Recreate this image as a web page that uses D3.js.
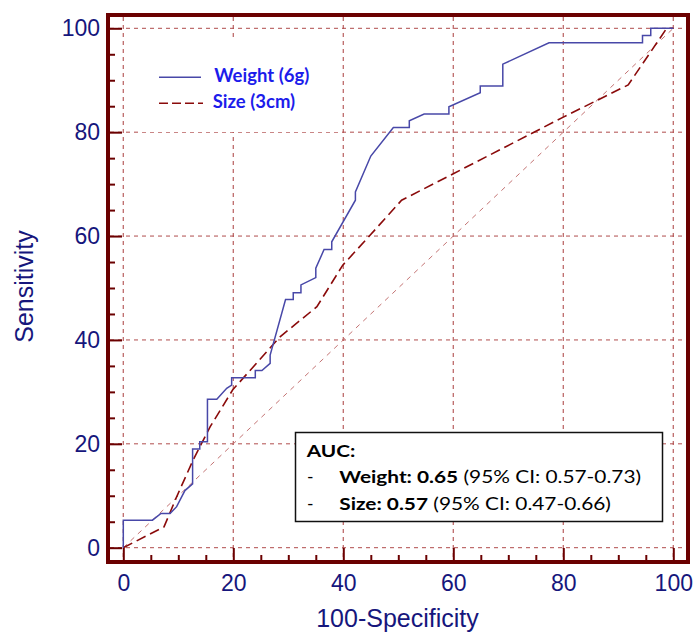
<!DOCTYPE html>
<html>
<head>
<meta charset="utf-8">
<script src="https://cdn.jsdelivr.net/npm/d3@7"></script>
<style>
  body { margin: 0; background: #fff; }
  svg { display: block; }
</style>
</head>
<body>
<div id="chart"></div>
<script>
// ROC curves (x = 100-specificity, y = sensitivity)
var weightX = [0, 0, 5.3, 6.85, 8.5, 9.7, 11.2, 12.6, 12.6, 13.9, 13.9, 15.3, 15.3, 17.0, 18.8, 19.7, 19.7, 24.0, 24.0, 25.2, 26.7, 26.7, 29.5, 30.9, 30.9, 32.3, 32.3, 35.0, 35.0, 36.5, 37.9, 37.9, 42.2, 42.2, 45.0, 49.1, 52.0, 52.0, 54.7, 59.2, 59.2, 64.9, 64.9, 69.0, 69.0, 77.4, 94.4, 94.4, 95.9, 95.9, 100]
var weightY = [0, 5.3, 5.3, 6.6, 6.6, 7.9, 11.0, 12.3, 19.0, 19.0, 20.4, 20.4, 28.6, 28.6, 30.7, 31.3, 32.7, 32.7, 34.1, 34.1, 35.5, 37.1, 47.8, 47.8, 49.1, 49.1, 50.6, 52.0, 53.8, 57.4, 57.4, 58.9, 66.9, 68.5, 75.4, 80.9, 80.9, 82.2, 83.5, 83.5, 84.9, 87.6, 88.9, 88.9, 93.1, 97.2, 97.2, 98.6, 98.6, 100, 100]
var sizeX = [0, 7.4, 9.7, 12.7, 15.8, 19.9, 28.5, 35.2, 39.9, 44.9, 50.6, 60.0, 80.0, 91.8, 98.8, 100]
var sizeY = [0, 4.0, 9.8, 16.9, 23.3, 30.4, 40.6, 46.4, 54.4, 60.2, 66.9, 72.0, 82.9, 89.1, 100, 100]

var xTicks = [0, 20, 40, 60, 80, 100]
var yTicks = [0, 20, 40, 60, 80, 100]
var minorTicks = [5, 10, 15, 25, 30, 35, 45, 50, 55, 65, 70, 75, 85, 90, 95]

var seriesNames = ['Weight (6g)', 'Size (3cm)']
var aucTitle = 'AUC:'
var aucBold = ['Weight: 0.65', 'Size: 0.57']
var aucRest = [' (95% CI: 0.57-0.73)', ' (95% CI: 0.47-0.66)']

var w = 697
var h = 633
var frame = {left: 108, top: 15, right: 688, bottom: 562}

var navy = '#16167c'
var maroon = '#6b0000'
var gridColor = '#b04c4c'
var boxFont = 'Lato, "Open Sans", sans-serif'

var svg = d3.select('#chart').append('svg')
    .attr('width', w)
    .attr('height', h)

var x = d3.scaleLinear().domain([0, 100]).range([123.3, 673.3])
var y = d3.scaleLinear().domain([0, 100]).range([547.7, 28.3])

// grid
svg.append('g').selectAll('line')
    .data(xTicks)
    .enter().append('line')
    .attr('x1', function(d){return x(d)})
    .attr('x2', function(d){return x(d)})
    .attr('y1', frame.top + 2)
    .attr('y2', frame.bottom - 2)
    .attr('stroke', '#bd6a6a')
    .attr('stroke-width', 1.3)
    .attr('stroke-dasharray', '4,4')

svg.append('g').selectAll('line')
    .data(yTicks)
    .enter().append('line')
    .attr('y1', function(d){return y(d)})
    .attr('y2', function(d){return y(d)})
    .attr('x1', frame.left + 2)
    .attr('x2', frame.right - 2)
    .attr('stroke', gridColor)
    .attr('stroke-width', 1)
    .attr('stroke-dasharray', '4,4')

// white patch behind the legend
svg.append('rect')
    .attr('x', 141).attr('y', 40)
    .attr('width', 200).attr('height', 92)
    .attr('fill', '#fff')

// chance diagonal
svg.append('line')
    .attr('x1', x(0)).attr('y1', y(0))
    .attr('x2', x(100)).attr('y2', y(100))
    .attr('stroke', '#c47474')
    .attr('stroke-width', 1)
    .attr('stroke-dasharray', '5,5')

var line = d3.line()
    .x(function(d){return x(d[0])})
    .y(function(d){return y(d[1])})

svg.append('path')
    .datum(d3.zip(sizeX, sizeY))
    .attr('d', line)
    .attr('fill', 'none')
    .attr('stroke', '#8a0a0a')
    .attr('stroke-width', 1.6)
    .attr('stroke-dasharray', '10,5')

svg.append('path')
    .datum(d3.zip(weightX, weightY))
    .attr('d', line)
    .attr('fill', 'none')
    .attr('stroke', '#4848a8')
    .attr('stroke-width', 1.5)

// axes: ticks point inward from the frame
var yAxis = svg.append('g')
    .attr('transform', 'translate(' + frame.left + ',0)')
    .call(d3.axisLeft(y).tickValues(yTicks).tickSizeInner(-14).tickSizeOuter(0).tickPadding(8))
var yMinor = svg.append('g')
    .attr('transform', 'translate(' + frame.left + ',0)')
    .call(d3.axisLeft(y).tickValues(minorTicks).tickSizeInner(-7).tickSizeOuter(0).tickFormat(''))

var xAxis = svg.append('g')
    .attr('transform', 'translate(0,' + frame.bottom + ')')
    .call(d3.axisBottom(x).tickValues(xTicks).tickSizeInner(-14).tickSizeOuter(0).tickPadding(13))
var xMinor = svg.append('g')
    .attr('transform', 'translate(0,' + frame.bottom + ')')
    .call(d3.axisBottom(x).tickValues(minorTicks).tickSizeInner(-7).tickSizeOuter(0).tickFormat(''))

;[yAxis, yMinor, xAxis, xMinor].forEach(function(g){
  g.select('.domain').remove()
  g.selectAll('.tick line').attr('stroke', maroon).attr('stroke-width', 2)
  g.selectAll('.tick text')
      .attr('fill', navy)
      .style('font-family', '"Liberation Sans", Arial, sans-serif')
      .style('font-size', '23px')
})

// frame
svg.append('rect')
    .attr('x', frame.left).attr('y', frame.top)
    .attr('width', frame.right - frame.left)
    .attr('height', frame.bottom - frame.top)
    .attr('fill', 'none')
    .attr('stroke', maroon)
    .attr('stroke-width', 4)

// axis titles
svg.append('text')
    .attr('x', 397.5).attr('y', 626.7)
    .attr('text-anchor', 'middle')
    .attr('fill', navy)
    .style('font-family', '"Liberation Sans", Arial, sans-serif')
    .style('font-size', '25px')
    .text('100-Specificity')

svg.append('text')
    .attr('transform', 'translate(33,286.5) rotate(-90)')
    .attr('text-anchor', 'middle')
    .attr('fill', navy)
    .style('font-family', '"Liberation Sans", Arial, sans-serif')
    .style('font-size', '25px')
    .text('Sensitivity')

// legend
var legend = svg.append('g')
legend.append('line')
    .attr('x1', 159).attr('x2', 201)
    .attr('y1', 77.3).attr('y2', 77.3)
    .attr('stroke', '#4848a8').attr('stroke-width', 1.5)
legend.append('line')
    .attr('x1', 159).attr('x2', 203)
    .attr('y1', 103.3).attr('y2', 103.3)
    .attr('stroke', '#8a0a0a').attr('stroke-width', 1.6)
    .attr('stroke-dasharray', '9,4')
legend.selectAll('text')
    .data(seriesNames)
    .enter().append('text')
    .attr('x', function(d, i){return i == 0 ? 214.3 : 212.7})
    .attr('y', function(d, i){return i == 0 ? 82.3 : 108.3})
    .attr('fill', '#1c1ceb')
    .style('font-family', boxFont)
    .style('font-weight', 'bold')
    .style('font-size', '18.5px')
    .text(function(d){return d})

// AUC box
var box = svg.append('g')
box.append('rect')
    .attr('x', 295.5).attr('y', 432.5)
    .attr('width', 367).attr('height', 89)
    .attr('fill', '#fff')
    .attr('stroke', '#111')
    .attr('stroke-width', 1.5)
var title = box.append('text')
    .style('font-family', boxFont)
    .style('font-weight', 'bold')
    .style('font-size', '17.5px')
    .text(aucTitle)
var rows = box.selectAll('g.row')
    .data(aucBold)
    .enter().append('g')
    .attr('class', 'row')
    .attr('transform', function(d, i){return 'translate(0,' + (483.3 + i * 26.7) + ')'})
rows.append('text')
    .attr('x', 307)
    .style('font-family', boxFont)
    .style('font-size', '17.5px')
    .text('-')
var rowText = rows.append('text')
    .style('font-family', boxFont)
    .style('font-size', '17.5px')
rowText.append('tspan')
    .style('font-weight', 'bold')
    .text(function(d){return d})
rowText.append('tspan')
    .text(function(d, i){return aucRest[i]})

// the box text in the picture is wide; stretch it to the same width
var sx = 302 / rowText.node().getComputedTextLength()
rowText.attr('transform', 'translate(339.3,0) scale(' + sx + ',1)')
title.attr('transform', 'translate(306.7,456.7) scale(' + sx + ',1)')
</script>
</body>
</html>
